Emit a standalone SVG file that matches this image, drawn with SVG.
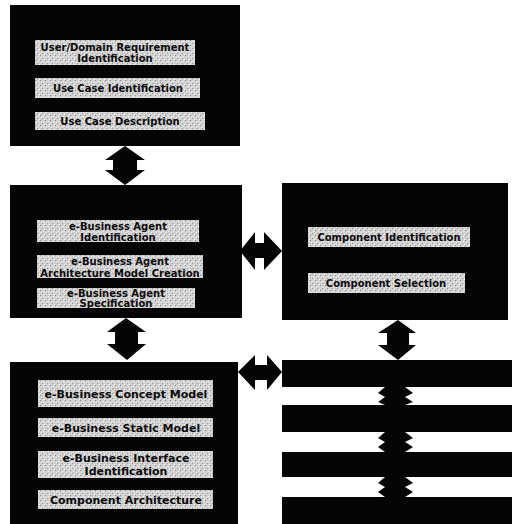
<svg xmlns="http://www.w3.org/2000/svg" width="514" height="524" viewBox="0 0 514 524">
<defs>
<pattern id="stip" width="5" height="5" patternUnits="userSpaceOnUse">
<rect width="5" height="5" fill="#d0d0d0"/>
<rect x="0" y="0" width="1" height="1" fill="#8a8a8a"/>
<rect x="3" y="1" width="1" height="1" fill="#f4f4f4"/>
<rect x="2" y="3" width="1" height="1" fill="#9a9a9a"/>
<rect x="4" y="4" width="1" height="1" fill="#ffffff"/>
<rect x="1" y="2" width="1" height="1" fill="#ececec"/>
</pattern>
</defs>
<style>
.box{fill:#050505}
.inner{fill:url(#stip)}
.t{font-family:"DejaVu Sans",sans-serif;font-weight:bold;font-size:10px;fill:#0a0a0a;text-anchor:middle}
.t11{font-size:11px}
.arr{fill:#050505}
</style>
<rect width="514" height="524" fill="#ffffff"/>

<g id="node-requirements">
<rect class="box" x="10" y="5" width="230" height="141"/>
<rect class="inner" x="35" y="40" width="160" height="25"/>
<text class="t" x="115" y="51">User/Domain Requirement</text>
<text class="t" x="115" y="62">Identification</text>
<rect class="inner" x="35" y="78" width="165" height="20"/>
<text class="t" x="118" y="92">Use Case Identification</text>
<rect class="inner" x="35" y="112" width="170" height="18"/>
<text class="t" x="120" y="125">Use Case Description</text>
</g>

<g id="node-agent">
<rect class="box" x="10" y="185" width="232" height="133"/>
<rect class="inner" x="37" y="220" width="162" height="22"/>
<text class="t" x="118" y="230">e-Business Agent</text>
<text class="t" x="118" y="241">Identification</text>
<rect class="inner" x="37" y="255" width="166" height="23"/>
<text class="t" x="120" y="265">e-Business Agent</text>
<text class="t" x="120" y="277">Architecture Model Creation</text>
<rect class="inner" x="37" y="288" width="158" height="20"/>
<text class="t" x="116" y="297">e-Business Agent</text>
<text class="t" x="116" y="307">Specification</text>
</g>

<g id="node-business-model">
<rect class="box" x="10" y="362" width="228" height="162"/>
<rect class="inner" x="38" y="380" width="175" height="27"/>
<text class="t t11" x="126" y="398">e-Business Concept Model</text>
<rect class="inner" x="38" y="418" width="175" height="19"/>
<text class="t t11" x="126" y="432">e-Business Static Model</text>
<rect class="inner" x="38" y="451" width="175" height="27"/>
<text class="t t11" x="126" y="462">e-Business Interface</text>
<text class="t t11" x="126" y="475">Identification</text>
<rect class="inner" x="38" y="490" width="175" height="19"/>
<text class="t t11" x="126" y="504">Component Architecture</text>
</g>

<g id="node-component">
<rect class="box" x="282" y="183" width="226" height="137"/>
<rect class="inner" x="308" y="227" width="162" height="20"/>
<text class="t" x="389" y="241">Component Identification</text>
<rect class="inner" x="308" y="273" width="157" height="20"/>
<text class="t" x="386" y="287">Component Selection</text>
</g>

<g id="node-row1"><rect class="box" x="282" y="360" width="230" height="27"/></g>
<g id="node-row2"><rect class="box" x="282" y="405" width="230" height="27"/></g>
<g id="node-row3"><rect class="box" x="282" y="452" width="230" height="25"/></g>
<g id="node-row4"><rect class="box" x="282" y="497" width="230" height="27"/></g>

<g id="connectors">
<polygon class="arr" points="125,146 145,160 137,160 137,170 145,170 125,185 105,170 113,170 113,160 105,160"/>
<polygon class="arr" points="126,318 146,332 138,332 138,344 146,344 127,360 107,344 115,344 115,332 107,332"/>
<polygon class="arr" points="240,251 255,232 255,243 264,243 264,232 282,251 264,270 264,258 255,258 255,270"/>
<polygon class="arr" points="238,372 255,355 255,365 267,365 267,355 282,372 267,390 267,380 255,380 255,390"/>
<polygon class="arr" points="398,320 416,333 409,333 409,345 416,345 398,360 378,345 387,345 387,333 378,333"/>
<polygon class="arr" points="385,387 405,387 413,393 405,397 413,402 405,405 385,405 378,402 385,397 378,393"/>
<polygon class="arr" points="385,432 405,432 413,438 405,442 413,447 405,452 385,452 378,447 385,442 378,438"/>
<polygon class="arr" points="385,477 405,477 413,483 405,487 413,492 405,497 385,497 378,492 385,487 378,483"/>
</g>
</svg>
